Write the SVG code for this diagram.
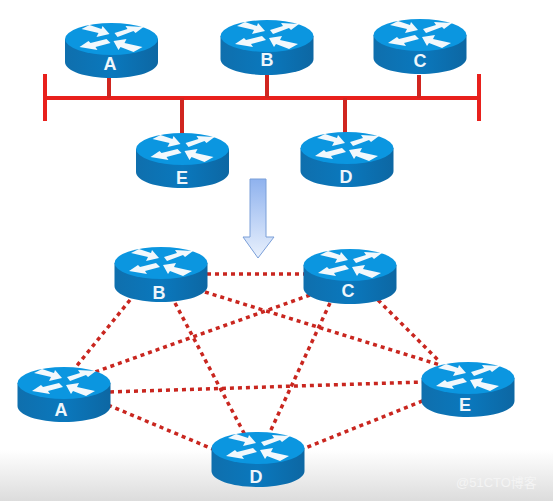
<svg xmlns="http://www.w3.org/2000/svg" width="553" height="501" viewBox="0 0 553 501">
<style>
.bus{stroke:#e8201c;stroke-width:4;fill:none}
.drop{stroke:#d0251f;stroke-width:4;fill:none}
.dot{stroke:#c9261f;stroke-width:3.500;stroke-dasharray:4 4;fill:none}
.lab{font-family:"Liberation Sans",Arial,sans-serif;font-size:18px;font-weight:bold;fill:#eef6fb;text-anchor:middle}
.wm{font-family:"Liberation Sans","Noto Sans CJK SC",sans-serif;font-size:13px;fill:#f4f4f4;text-anchor:start}
</style>
<defs>
<linearGradient id="bg" x1="0" y1="0" x2="0" y2="1"><stop offset="0" stop-color="#fff"/><stop offset="1" stop-color="#dcdcdc"/></linearGradient>
<linearGradient id="ar" x1="0" y1="0" x2="0" y2="1"><stop offset="0" stop-color="#8fb2ee"/><stop offset="1" stop-color="#e9f1fd"/></linearGradient>
<linearGradient id="side" x1="0" y1="0" x2="1" y2="0"><stop offset="0" stop-color="#0f6fad"/><stop offset=".5" stop-color="#0a78bd"/><stop offset="1" stop-color="#0d67a3"/></linearGradient>
<g id="router">
<path d="M-46.500 16V39C-46.500 48-26 55 0 55S46.500 48 46.500 39V16Z" fill="url(#side)"/>
<ellipse cx="0" cy="16" rx="46.500" ry="16" fill="#0b96e0"/>
<g fill="#f2f8fc">
<path d="M-30 6L-22 2L-10 6L-9 3L-2 11L-15 14L-13 10Z"/>
<path d="M32 4L14 3L16 6L3 10L6 14L22 8L24 10Z"/>
<path d="M-32 24L-14 27L-16 24L-1 20L-5 16L-21 20L-23 18Z"/>
<path d="M2 18L15 16L13 20L31 24L22 29L9 24L7 27Z"/>
</g>
</g>
</defs>
<rect width="553" height="501" fill="#fff"/>
<rect y="450" width="553" height="51" fill="url(#bg)"/>
<g id="connectors">
<path class="bus" d="M45 98H479M45 74V121M479 74V121"/>
<path class="drop" d="M109 78V98M267 75V98M419 75V98M182 98V135M345 98V133"/>
<path class="dot" d="M207 274H304"/>
<path class="dot" d="M205 292L440 365"/>
<path class="dot" d="M130 300L75 368"/>
<path class="dot" d="M175 303L245 435"/>
<path class="dot" d="M310 295L95 372"/>
<path class="dot" d="M330 303L270 432"/>
<path class="dot" d="M378 300L440 362"/>
<path class="dot" d="M110 392L422 382"/>
<path class="dot" d="M108 405L215 450"/>
<path class="dot" d="M300 450L425 400"/>
</g>
<g id="arrow"><path d="M250 179H266V237H274L258 258L243 237H250Z" fill="url(#ar)" stroke="#7b9fd8" stroke-width="1"/></g>
<g id="top-a"><use href="#router" x="111.500" y="23"/><text class="lab" x="110" y="70">A</text></g>
<g id="top-b"><use href="#router" x="267" y="20"/><text class="lab" x="267" y="66">B</text></g>
<g id="top-c"><use href="#router" x="420" y="19"/><text class="lab" x="420" y="67">C</text></g>
<g id="top-e"><use href="#router" x="182.500" y="133"/><text class="lab" x="182" y="184">E</text></g>
<g id="top-d"><use href="#router" x="347" y="132"/><text class="lab" x="346" y="183">D</text></g>
<g id="mesh-b"><use href="#router" x="161" y="247"/><text class="lab" x="159" y="299">B</text></g>
<g id="mesh-c"><use href="#router" x="350" y="249"/><text class="lab" x="348" y="297">C</text></g>
<g id="mesh-a"><use href="#router" x="64" y="367"/><text class="lab" x="61" y="416">A</text></g>
<g id="mesh-e"><use href="#router" x="468" y="362"/><text class="lab" x="465" y="411">E</text></g>
<g id="mesh-d"><use href="#router" x="258" y="432"/><text class="lab" x="256" y="483">D</text></g>
<text class="wm" x="456" y="487">@51CTO博客</text>
</svg>
